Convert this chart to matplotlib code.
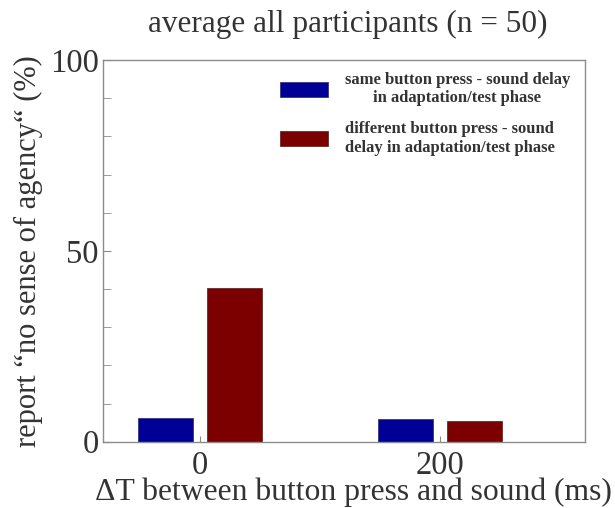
import numpy as np
import matplotlib.pyplot as plt
from matplotlib.ticker import MultipleLocator

plt.rcParams['font.family'] = ['Liberation Serif', 'DejaVu Serif']

# data
delays = [0, 200]
same_delay = [6.1, 5.9]
diff_delay = [40.2, 5.5]
labels = ['same button press - sound delay\nin adaptation/test phase',
          'different button press - sound\ndelay in adaptation/test phase']

txt = '#333333'
spine = '#8c8c8c'

fig = plt.figure(figsize=(6.15, 5.08), dpi=100)
ax = fig.add_axes([103 / 615, 1 - 441.7 / 508, 482 / 615, 381.7 / 508])

w = 46
x = np.array(delays)
ax.bar(x - 29, same_delay, width=w, color='#000096', edgecolor='#3a3a6a', linewidth=0.6,
       label=labels[0])
ax.bar(x + 29, diff_delay, width=w, color='#7d0000', edgecolor='#5a3030', linewidth=0.6,
       label=labels[1])

ax.set_xlim(-81, 321)
ax.set_ylim(0, 100)
ax.set_xticks(delays)
ax.set_yticks([0, 50, 100])
ax.yaxis.set_minor_locator(MultipleLocator(10))
ax.tick_params(axis='both', which='both', direction='in', colors=spine, labelcolor=txt,
               labelsize=23.5, right=False, top=False)
ax.tick_params(axis='y', which='major', length=6, pad=3)
ax.tick_params(axis='y', which='minor', length=6)
ax.tick_params(axis='x', which='major', length=4, pad=6)
for s in ax.spines.values():
    s.set_color(spine)
    s.set_linewidth(1.0)

ax.set_ylabel('report \u201cno sense of agency\u201c (%)', fontsize=22, color=txt, labelpad=5)
ax.set_xlabel('\u0394T between button press and sound (ms)', fontsize=22.8, color=txt)
ax.xaxis.set_label_coords(0.52, -0.095)
fig.text(0.565, 0.952, 'average all participants (n = 50)', fontsize=22.5, color=txt,
         ha='center', va='center')

leg = ax.legend(loc='upper right', bbox_to_anchor=(1.0, 1.008), frameon=False,
                prop={'weight': 'bold', 'size': 12}, handlelength=2.9, handleheight=1.0,
                labelspacing=0.9, handletextpad=1.0)
for t in leg.get_texts():
    t.set_color(txt)
    t.set_multialignment('center')

fig.savefig('out.png', dpi=100)
